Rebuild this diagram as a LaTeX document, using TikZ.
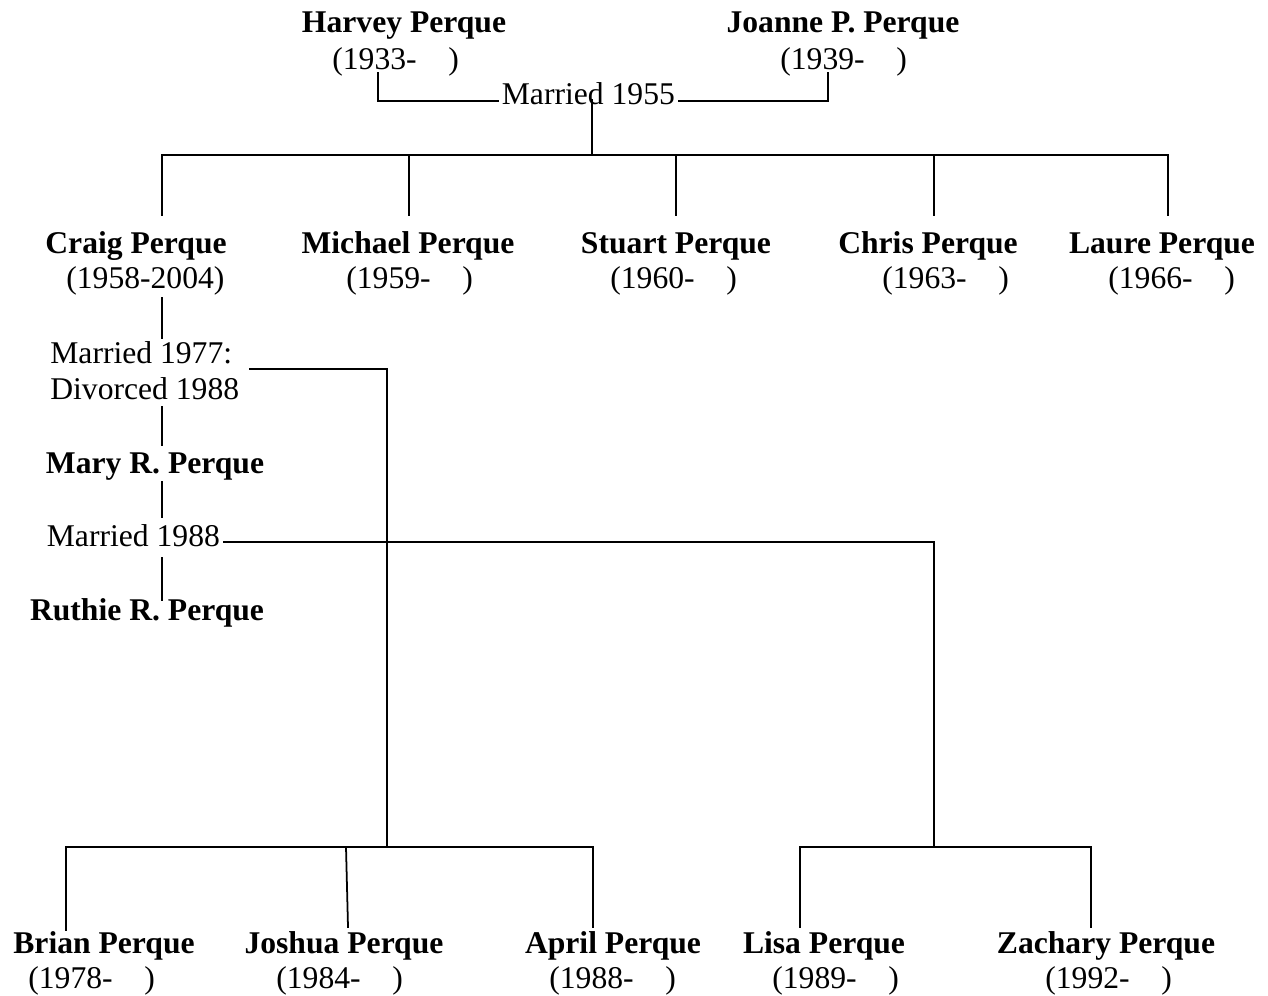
\documentclass[tikz,border=0pt]{standalone}
\usepackage{fontspec}
\setmainfont{Liberation Serif}
\newcommand\fsz{\fontsize{18}{22}\selectfont}
\tikzset{
  nm/.style={font=\fsz\bfseries, inner sep=0pt, anchor=base},
  yr/.style={font=\fsz, inner sep=0pt, anchor=base west},
  lbl/.style={font=\fsz, inner ysep=0pt, inner xsep=2pt, anchor=base west},
  ln/.style={line width=1pt, line cap=rect}
}
\begin{document}
\begin{tikzpicture}[x=0.02cm,y=-0.02cm]
\useasboundingbox (0,0) rectangle (1268,996);
% top generation
\node[nm] (harvey) at (404,33) {Harvey Perque};
\node[yr] (harveyy) at (332,70) {(1933-\hspace{1em})};
\node[nm] (joanne) at (843,33) {Joanne P. Perque};
\node[yr] (joanney) at (780,70) {(1939-\hspace{1em})};
\node[lbl] (m55) at (498,105) {Married 1955};
\coordinate (hl) at (378,73);
\coordinate (jl) at (828,73);
\draw[ln] (hl) |- ([yshift=0.08cm]m55.base west);
\draw[ln] ([yshift=0.08cm]m55.base east) -| (jl);
\coordinate (m55d) at (592,100);
\coordinate (j1) at (592,155);
\draw[ln] (m55d) -- (j1);
% children
\node[nm] (craig) at (136,254) {Craig Perque};
\node[yr] (craigy) at (66,289) {(1958-2004)};
\node[nm] (michael) at (408,254) {Michael Perque};
\node[yr] (michaely) at (346,289) {(1959-\hspace{1em})};
\node[nm] (stuart) at (676,254) {Stuart Perque};
\node[yr] (stuarty) at (610,289) {(1960-\hspace{1em})};
\node[nm] (chris) at (928,254) {Chris Perque};
\node[yr] (chrisy) at (882,289) {(1963-\hspace{1em})};
\node[nm] (laure) at (1162,254) {Laure Perque};
\node[yr] (laurey) at (1108,289) {(1966-\hspace{1em})};
\coordinate (c1) at (162,155);
\coordinate (c2) at (409,155);
\coordinate (c3) at (676,155);
\coordinate (c4) at (934,155);
\coordinate (c5) at (1168,155);
\draw[ln] (c1) -- (c5);
\draw[ln] (c1) -- (162,215);
\draw[ln] (c2) -- (409,215);
\draw[ln] (c3) -- (676,215);
\draw[ln] (c4) -- (934,215);
\draw[ln] (c5) -- (1168,215);
% Craig's marriages
\node[yr] (m77) at (50,364) {Married 1977:};
\node[yr] (d88) at (50,400) {Divorced 1988};
\node[nm] (mary) at (155,474) {Mary R. Perque};
\node[lbl] (m88) at (43,547) {Married 1988};
\node[nm] (ruthie) at (147,621) {Ruthie R. Perque};
\draw[ln] (162,298) -- (162,338);
\draw[ln] (162,407) -- (162,445);
\draw[ln] (162,482) -- (162,517);
\draw[ln] (162,558) -- (162,600);
\coordinate (a0) at (250,369);
\coordinate (a1) at (387,847);
\draw[ln] (a0) -| (a1);
\coordinate (b1) at (934,847);
\draw[ln] ([yshift=0.1cm]m88.base east) -| (b1);
% grandchildren
\draw[ln] (66,847) -- (593,847);
\draw[ln] (66,847) -- (66,930);
\draw[ln] (346,847) -- (348,927);
\draw[ln] (593,847) -- (593,927);
\draw[ln] (800,847) -- (1091,847);
\draw[ln] (800,847) -- (800,927);
\draw[ln] (1091,847) -- (1091,927);
\node[nm] (brian) at (104,953) {Brian Perque};
\node[yr] (briany) at (28,988) {(1978-\hspace{1em})};
\node[nm] (joshua) at (344,953) {Joshua Perque};
\node[yr] (joshuay) at (276,988) {(1984-\hspace{1em})};
\node[nm] (april) at (613,953) {April Perque};
\node[yr] (aprily) at (549,988) {(1988-\hspace{1em})};
\node[nm] (lisa) at (824,953) {Lisa Perque};
\node[yr] (lisay) at (772,988) {(1989-\hspace{1em})};
\node[nm] (zach) at (1106,953) {Zachary Perque};
\node[yr] (zachy) at (1045,988) {(1992-\hspace{1em})};
\end{tikzpicture}
\end{document}
